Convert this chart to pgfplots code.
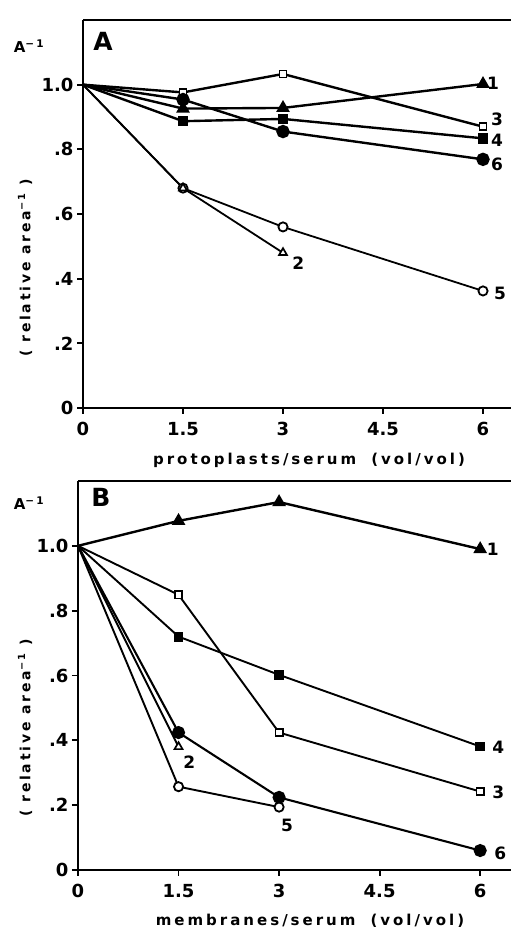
\documentclass[border=0pt]{standalone}
\usepackage{pgfplots}
\pgfplotsset{compat=1.18}
\usepackage{fontspec}
\setmainfont{DejaVu Sans}
\newfontfamily\lblfont[LetterSpace=20]{DejaVu Sans}

\tikzset{
  lab/.style={font=\fontsize{17}{17}\selectfont\bfseries, anchor=center},
  ofill/.style={fill=white, solid},
}
\pgfplotsset{
  panel/.style={
    scale only axis, anchor=south west,
    xmin=0, ymin=0, ymax=1.2,
    axis lines*=left,
    axis line style={-, line width=2.4pt},
    tick align=outside, major tick length=6pt,
    tick style={line width=1.8pt, black},
    xtick={0,1.5,3,4.5,6}, xticklabels={0,1.5,3,4.5,6},
    ytick={0,0.2,0.4,0.6,0.8,1.0}, yticklabels={0,.2,.4,.6,.8,1.0},
    ticklabel style={font=\fontsize{18}{18}\selectfont\bfseries},
    xticklabel style={yshift=-5pt},
    clip=false,
    every axis plot/.append style={line width=2.4pt, black},
  },
}

\begin{document}
\begin{tikzpicture}
\useasboundingbox (0pt,0pt) rectangle (511pt,929pt);

% ---- panel A
\begin{axis}[panel, at={(83pt,521pt)}, width=428pt, height=388pt, xmax=6.42]
\addplot[mark=triangle*, mark size=5.5pt, mark indices={2,3,4}]
  coordinates {(0,1) (1.5,0.926) (3,0.928) (6,1.002)};
\addplot[mark=square*, mark size=3.6pt, mark indices={2,3,4}, mark options={ofill, line width=1.7pt}]
  coordinates {(0,1) (1.5,0.976) (3,1.033) (6,0.870)};
\addplot[mark=square*, mark size=4pt, mark indices={2,3,4}]
  coordinates {(0,1) (1.5,0.887) (3,0.894) (6,0.834)};
\addplot[mark=*, mark size=5.5pt, mark indices={2,3,4}]
  coordinates {(0,1) (1.5,0.954) (3,0.855) (6,0.769)};
\addplot[line width=1.8pt, mark=*, mark size=4.6pt, mark indices={2,3,4}, mark options={ofill, line width=1.8pt}]
  coordinates {(0,1) (1.5,0.680) (3,0.560) (6,0.362)};
\addplot[line width=1.8pt, mark=triangle*, mark size=4.6pt, mark indices={2,3}, mark options={ofill, line width=1.7pt}]
  coordinates {(0,1) (1.5,0.680) (3,0.480)};
\draw[line width=2.4pt] (rel axis cs:0,1) -- (rel axis cs:1,1);
\node[lab] at (axis cs:6.15,1.003) {1};
\node[lab] at (axis cs:6.21,0.892) {3};
\node[lab] at (axis cs:6.21,0.827) {4};
\node[lab] at (axis cs:6.21,0.753) {6};
\node[lab] at (axis cs:3.23,0.447) {2};
\node[lab] at (axis cs:6.255,0.355) {5};
\end{axis}

% ---- panel B
\begin{axis}[panel, at={(78pt,59pt)}, width=433pt, height=389pt, xmax=6.46]
\addplot[mark=triangle*, mark size=5.5pt, mark indices={2,3,4}]
  coordinates {(0,1) (1.5,1.077) (3,1.135) (6,0.990)};
\addplot[line width=1.9pt, mark=square*, mark size=3.6pt, mark indices={2,3,4}, mark options={ofill, line width=1.7pt}]
  coordinates {(0,1) (1.5,0.849) (3,0.424) (6,0.242)};
\addplot[line width=1.9pt, mark=square*, mark size=4pt, mark indices={2,3,4}]
  coordinates {(0,1) (1.5,0.720) (3,0.602) (6,0.381)};
\addplot[line width=2.1pt, mark=*, mark size=5.5pt, mark indices={2,3,4}]
  coordinates {(0,1) (1.5,0.424) (3,0.224) (6,0.060)};
\addplot[line width=1.9pt, mark=triangle*, mark size=4.6pt, mark indices={2}, mark options={ofill, line width=1.7pt}]
  coordinates {(0,1) (1.5,0.380)};
\addplot[line width=1.9pt, mark=*, mark size=4.6pt, mark indices={2,3}, mark options={ofill, line width=1.8pt}]
  coordinates {(0,1) (1.5,0.257) (3,0.194)};
\draw[line width=2.4pt] (rel axis cs:0,1) -- (rel axis cs:1,1);
\node[lab] at (axis cs:6.19,0.988) {1};
\node[lab] at (axis cs:6.27,0.377) {4};
\node[lab] at (axis cs:6.27,0.241) {3};
\node[lab] at (axis cs:6.30,0.052) {6};
\node[lab] at (axis cs:1.66,0.333) {2};
\node[lab] at (axis cs:3.12,0.139) {5};
\end{axis}

% ---- texts round the axes
\node[font=\fontsize{25}{25}\selectfont\bfseries] at (103pt,888pt) {A};
\node[font=\fontsize{25}{25}\selectfont\bfseries] at (101pt,432pt) {B};
\node[font=\lblfont\fontsize{15}{15}\selectfont\bfseries] at (29pt,883pt) {A\textsuperscript{−1}};
\node[font=\lblfont\fontsize{15}{15}\selectfont\bfseries] at (29pt,426pt) {A\textsuperscript{−1}};
\node[font=\lblfont\fontsize{14}{14}\selectfont\bfseries, rotate=90] at (25pt,661pt) {( relative area\textsuperscript{−1} )};
\node[font=\lblfont\fontsize{14}{14}\selectfont\bfseries, rotate=90] at (25pt,201pt) {( relative area\textsuperscript{−1} )};
\node[font=\lblfont\fontsize{15}{15}\selectfont\bfseries, anchor=base] at (309pt,464pt) {protoplasts/serum\quad (vol/vol)};
\node[font=\lblfont\fontsize{15}{15}\selectfont\bfseries, anchor=base] at (310pt,4pt) {membranes/serum\quad (vol/vol)};
\end{tikzpicture}
\end{document}
